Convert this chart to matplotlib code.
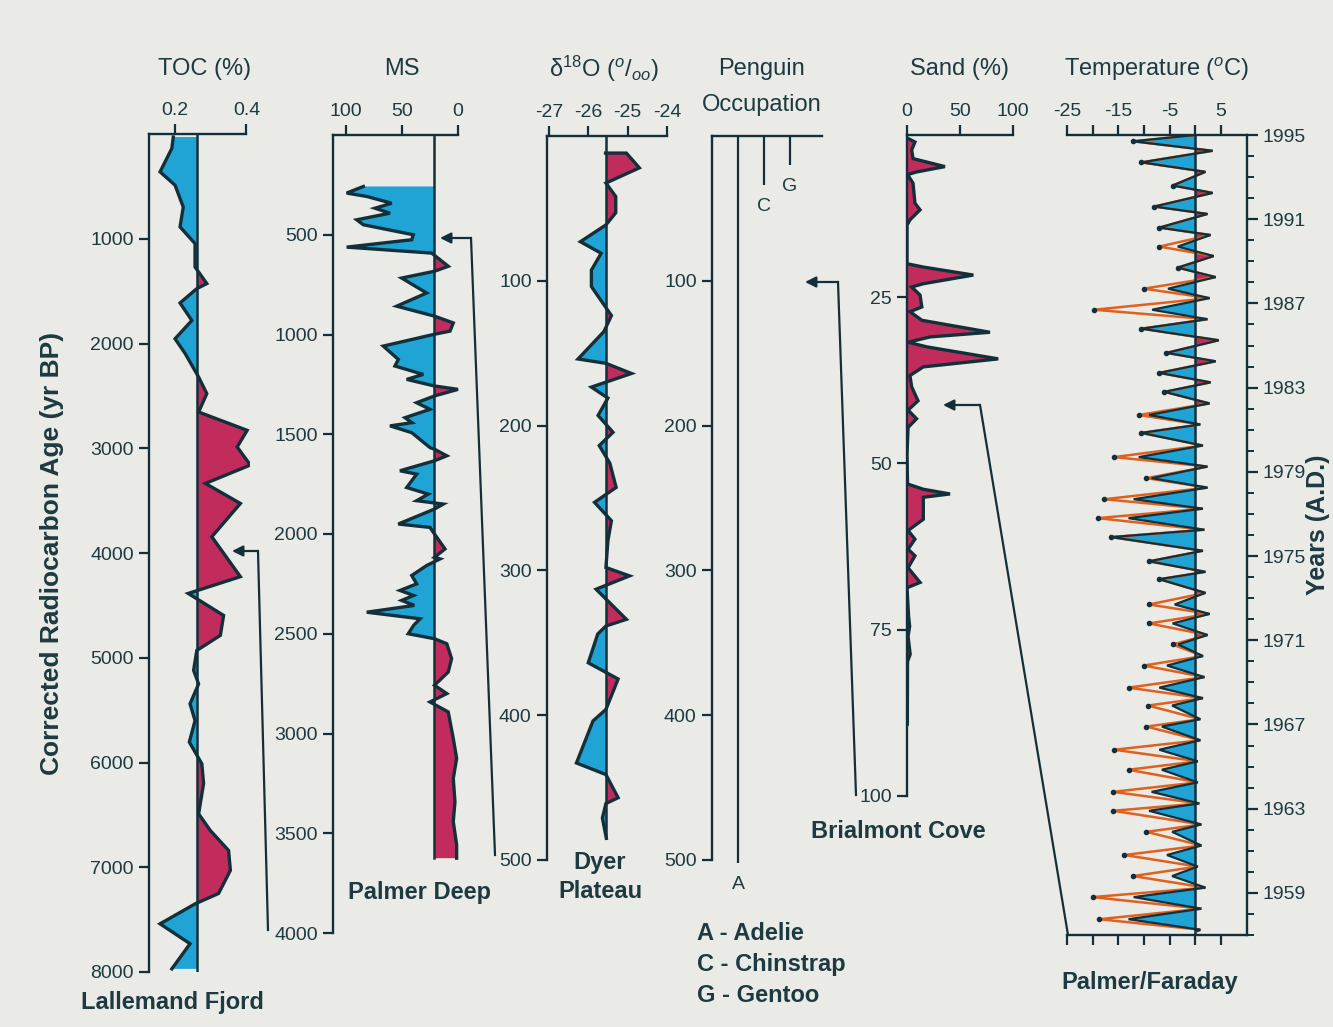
import numpy as np
import matplotlib.pyplot as plt
from matplotlib.lines import Line2D
from matplotlib.patches import FancyArrowPatch

plt.rcParams['font.family'] = ['Liberation Sans', 'DejaVu Sans']
plt.rcParams['axes.unicode_minus'] = False
plt.rcParams['mathtext.fontset'] = 'custom'
plt.rcParams['mathtext.rm'] = 'Liberation Sans'
plt.rcParams['mathtext.it'] = 'Liberation Sans:italic'

# ------------------ data
# Lallemand Fjord TOC (%) vs corrected radiocarbon age (yr BP)
toc_age = [29, 137, 361, 489, 697, 887, 1046, 1270, 1428, 1476, 1613, 1780, 1955, 2094,
           2320, 2479, 2654, 2829, 2988, 3160, 3336, 3527, 3845, 4226, 4386, 4596, 4786,
           4930, 5120, 5250, 5440, 5600, 5805, 6012, 6200, 6490, 6650, 6840, 7030, 7250,
           7350, 7540, 7730, 7970]
toc_val = [0.195, 0.191, 0.158, 0.200, 0.223, 0.214, 0.256, 0.256, 0.289, 0.261, 0.214,
           0.247, 0.200, 0.228, 0.266, 0.289, 0.266, 0.402, 0.374, 0.411, 0.285, 0.383,
           0.303, 0.383, 0.237, 0.336, 0.327, 0.261, 0.252, 0.266, 0.242, 0.256, 0.240,
           0.275, 0.280, 0.266, 0.299, 0.350, 0.355, 0.322, 0.256, 0.158, 0.242, 0.191]
toc_base = 0.261

# Palmer Deep magnetic susceptibility (depth, MS)
ms_points = [(258, 84.5), (291, 99.4), (308, 81.5), (342, 59.2), (367, 74.1), (392, 60.7),
             (425, 90.4), (450, 84.5), (500, 39.9), (525, 41.3), (562, 99.4), (592, 23.5),
             (658, 8.7), (683, 21), (717, 50.3), (792, 28), (858, 54.7), (908, 21),
             (942, 4.2), (983, 7.1), (1000, 22), (1058, 66.7), (1125, 53.3), (1158, 56.3),
             (1200, 31), (1225, 45.8), (1258, 21), (1275, 0), (1308, 21), (1342, 36.9),
             (1375, 25), (1417, 47.3), (1442, 41.1), (1458, 60.7), (1492, 41.3), (1567, 25),
             (1575, 21), (1608, 10), (1633, 21), (1683, 51.8), (1700, 36.9), (1767, 45.8),
             (1800, 26.5), (1833, 36.9), (1850, 13.1), (1875, 21), (1950, 53.3), (1967, 25),
             (2000, 21), (2075, 11.6), (2117, 21), (2125, 16), (2158, 28), (2208, 41.3),
             (2250, 36.9), (2283, 51.8), (2308, 39.6), (2333, 50.3), (2358, 39),
             (2392, 81.5), (2425, 33.9), (2458, 39.6), (2500, 44.4), (2525, 21), (2550, 10),
             (2625, 5.7), (2692, 8.7), (2758, 21), (2800, 10), (2842, 25), (2892, 8.7),
             (3025, 4.2), (3125, 1.2), (3225, 4.2), (3342, 2.7), (3442, 4.2), (3558, 1.2),
             (3625, 1.2)]
ms_base = 21

# Dyer Plateau d18O (depth, per mil)
dyer_points = [(11.8, -25.56), (11.8, -25.03), (22, -24.7), (32.5, -25.55), (41.8, -25.3),
               (53, -25.3), (61.4, -25.55), (73, -26.2), (81, -25.67), (92.6, -25.92),
               (104, -25.92), (124, -25.41), (135, -25.6), (154, -26.26), (157, -25.55),
               (164, -24.9), (170, -25.55), (173.4, -25.92), (181, -25.5), (193, -25.75),
               (204.6, -25.37), (213.8, -25.72), (226, -25.45), (242.7, -25.29),
               (253, -25.84), (265.7, -25.41), (279.6, -25.5), (298, -25.55),
               (303.8, -24.95), (313, -25.8), (333.8, -25.03), (338.4, -25.55),
               (344, -25.76), (363.8, -26.0), (375, -25.24), (396, -25.55), (404, -25.88),
               (433, -26.3), (441, -25.55), (457, -25.24), (461, -25.55), (471, -25.64),
               (485, -25.54)]
dyer_base = -25.55

# penguin occupation (species, column, depth reached)
penguin_species = ['A', 'C', 'G']
penguin_col = [1, 2, 3]
penguin_end = [502, 34, 20]

# Brialmont Cove sand (depth, %)
sand_points = [(1.1, 0), (1.7, 7.5), (2.9, 4.4), (4.2, 5.7), (5.4, 35.8), (6.2, 9.1),
               (6.6, 0.5), (7.9, 5.7), (10.9, 7.5), (11.9, 12.3), (13.4, 2.8), (14.2, 0),
               (20, 0), (20.5, 15.4), (21.7, 62.6), (23, 15.4), (23.5, 4.4), (24.7, 12.3),
               (26.5, 14), (27.2, 2.8), (28.5, 14), (30.3, 78.3), (31, 21.7), (31.8, 1),
               (32.5, 18.9), (34.3, 86.1), (35.5, 15.4), (36.8, 2.8), (38.5, 4.4),
               (40.6, 10.4), (42, 1), (43.3, 9), (44.6, 1), (48.6, 0), (53.1, 0.5),
               (53.9, 15.4), (54.6, 40.6), (55.1, 15.4), (58.4, 15.4), (60.1, 1), (61.4, 7.5),
               (62.9, 1), (63.9, 7.5), (65.7, 1), (67.9, 12.3), (68.7, 0), (73, 1.5),
               (74.5, 2.5), (76, 1), (78.7, 3), (79.8, 0.5), (89.2, 0.3)]

# Palmer/Faraday monthly temperature, summer peaks and winter troughs, 1957-1994
temp_years = list(range(1957, 1995))
summer_pos = [y + 0.25 for y in temp_years]
summer_val = [1.0, 1.2, 2.0, 0.5, 1.2, 1.2, 0.8, 0.5, 0.5, 1.0, 1.0, 1.5, 1.8, 1.5, 2.4,
              2.8, 2.0, 2.0, 1.5,
              1.8, 1.5, 2.4, 2.4, 1.5, 1.0, 2.8, 3.0, 4.0, 4.6, 2.4, 2.8, 4.0, 3.6, 3.0,
              2.4, 3.4, 2.0, 3.4]
winter_pos = [1957.75, 1958.8, 1959.8, 1960.8, 1961.9, 1962.9, 1963.8, 1964.85, 1965.8,
              1966.9, 1967.9, 1968.75, 1969.8, 1970.8, 1971.8, 1972.7, 1973.9, 1974.75,
              1975.9, 1976.8, 1977.7, 1978.7, 1979.7, 1980.85, 1981.7, 1982.8, 1983.7,
              1984.65, 1985.8, 1986.7, 1987.7, 1988.7, 1989.7, 1990.6, 1991.6, 1992.6,
              1993.7, 1994.7]
winter_fill = [-13, -12, -4.5, -5.5, -4.5, -9, -8.5, -6.5, -7, -6.5, -4.5, -7, -5.5, -3.3,
               -4.4, -4, -7, -9, -16.4,
               -13, -12, -8.5, -11, -10.5, -9, -6, -7, -5.6, -10.5, -8.4, -5.3, -3.4, -3.4,
               -7, -8, -4.4, -10.5, -12.1]
winter_line = [-18.7, -20, -12.1, -13.8, -9.5, -16, -16, -13, -15.8, -9.5, -9.2, -13, -10,
               -4.4, -9, -9, -7, -9, -16.4,
               -19, -17.7, -9.5, -15.8, -10.5, -11, -6, -7, -5.6, -10.5, -19.7, -10, -3.4,
               -7, -7, -8, -4.4, -10.5, -12.1]
temp_start = (1957.2, 0.5)
temp_end = (1995.0, 0.0)

# ------------------
W, H = 1333, 1027
BG = '#eaeae7'
INK = '#13303a'
TXT = '#1d3a40'
BLUE = '#20a3d5'
RED = '#c22c5c'
ORANGE = '#e0611e'
HEAD = 17
TICK = 14

fig = plt.figure(figsize=(W / 100, H / 100), dpi=100, facecolor=BG)


def fx(x):
    return x / W


def fy(y):
    return 1 - y / H


def panel(x0, y0, x1, y1):
    ax = fig.add_axes([fx(x0), fy(y1), (x1 - x0) / W, (y1 - y0) / H])
    ax.set_facecolor('none')
    for s in ['right', 'bottom']:
        ax.spines[s].set_visible(False)
    for s in ['left', 'top']:
        ax.spines[s].set_linewidth(1.7)
        ax.spines[s].set_color(INK)
    ax.xaxis.tick_top()
    ax.tick_params(axis='both', direction='out', length=7, width=1.6, colors=INK,
                   labelcolor=TXT, labelsize=TICK, pad=4)
    return ax


def diverging(ax, depth, val, base, hi=RED, lo=BLUE):
    depth = np.asarray(depth, float)
    val = np.asarray(val, float)
    ax.fill_betweenx(depth, val, base, where=val >= base, interpolate=True, color=hi, lw=0)
    ax.fill_betweenx(depth, val, base, where=val <= base, interpolate=True, color=lo, lw=0)
    ax.plot(val, depth, color=INK, lw=2.4, solid_joinstyle='miter')


def ftext(x, y, s, **kw):
    kw.setdefault('ha', 'center')
    kw.setdefault('va', 'center')
    kw.setdefault('color', TXT)
    fig.text(fx(x), fy(y), s, **kw)


def leader(pts):
    xs = [fx(p[0]) for p in pts]
    ys = [fy(p[1]) for p in pts]
    fig.add_artist(Line2D(xs[:-1], ys[:-1], color=INK, lw=1.6))
    fig.add_artist(FancyArrowPatch((xs[-2], ys[-2]), (xs[-1], ys[-1]),
                                   transform=fig.transFigure, arrowstyle='-|>',
                                   mutation_scale=16, color=INK, lw=1.6,
                                   shrinkA=0, shrinkB=0))


# TOC
ax = panel(149, 134, 250, 972)
ax.set_xlim(0.127, 0.41)
ax.set_ylim(8000, 0)
diverging(ax, toc_age, toc_val, toc_base)
ax.plot([toc_base, toc_base], [0, 8000], color=INK, lw=1.8)
ax.spines['top'].set_bounds(0.127, 0.4)
ax.set_xticks([0.2, 0.4], ['0.2', '0.4'])
ax.set_yticks(range(1000, 8001, 1000))

# MS (reversed axis: high values to the left are blue)
ax = panel(333, 135, 460, 933)
ax.set_xlim(111.6, -1.8)
ax.set_ylim(4000, 0)
ms_d, ms_v = np.array(ms_points).T
diverging(ax, ms_d, ms_v, ms_base, hi=BLUE, lo=RED)
ax.plot([ms_base, ms_base], [0, ms_d[-1]], color=INK, lw=1.8)
ax.spines['top'].set_bounds(111.6, 0)
ax.set_xticks([100, 50, 0])
ax.set_yticks(range(500, 4001, 500))

# Dyer Plateau
ax = panel(547, 136, 668, 860)
ax.set_xlim(-27.05, -23.97)
ax.set_ylim(500, 0)
dy_d, dy_v = np.array(dyer_points).T
diverging(ax, dy_d, dy_v, dyer_base)
ax.plot([dyer_base, dyer_base], [0, dy_d[-1]], color=INK, lw=1.8)
ax.spines['top'].set_bounds(-27.05, -24)
ax.set_xticks([-27, -26, -25, -24])
ax.set_yticks(range(100, 501, 100))

# Penguin occupation
ax = panel(712, 136, 822, 860)
ax.set_xlim(0, 4.23)
ax.set_ylim(500, 0)
ax.vlines(penguin_col, 0, penguin_end, color=INK, lw=1.6, clip_on=False)
for sp, c, e in zip(penguin_species, penguin_col, penguin_end):
    ax.text(c, e + 15, sp, ha='center', va='center', fontsize=TICK, color=TXT, clip_on=False)
ax.set_xticks([])
ax.set_yticks(range(100, 501, 100))

# Sand
ax = panel(907, 135, 1014, 796)
ax.set_xlim(0, 101)
ax.set_ylim(100, 0.65)
sd_d, sd_v = np.array(sand_points).T
ax.fill_betweenx(sd_d, sd_v, 0, color=RED, lw=0)
ax.plot(sd_v, sd_d, color=INK, lw=2.4, solid_joinstyle='miter')
ax.spines['top'].set_bounds(0, 100)
ax.set_xticks([0, 50, 100])
ax.set_yticks([25, 50, 75, 100])

# Temperature
ax = fig.add_axes([fx(1067), fy(935), (1247 - 1067) / W, 800 / H])
ax.set_facecolor('none')
ax.spines['left'].set_visible(False)
for s in ['right', 'top', 'bottom']:
    ax.spines[s].set_linewidth(1.7)
    ax.spines[s].set_color(INK)
ax.set_xlim(-25, 10.1)
ax.set_ylim(1957, 1995)

fill_t = [temp_start[0]]
fill_v = [temp_start[1]]
line_t = [temp_start[0]]
line_v = [temp_start[1]]
for sp, sv, wp, wf, wl in zip(summer_pos, summer_val, winter_pos, winter_fill, winter_line):
    fill_t += [sp, wp]
    fill_v += [sv, wf]
    line_t += [sp, wp]
    line_v += [sv, wl]
fill_t.append(temp_end[0])
fill_v.append(temp_end[1])
line_t.append(temp_end[0])
line_v.append(temp_end[1])
fill_t = np.array(fill_t)
fill_v = np.array(fill_v)

ax.plot(line_v, line_t, color=ORANGE, lw=1.8, solid_joinstyle='miter')
ax.plot(winter_line, winter_pos, 'o', color=INK, ms=3)
ax.fill_betweenx(fill_t, fill_v, 0, where=fill_v <= 0, interpolate=True, color=BLUE, lw=0)
ax.fill_betweenx(fill_t, fill_v, 0, where=fill_v >= 0, interpolate=True, color=RED, lw=0)
ax.plot(fill_v, fill_t, color=INK, lw=1.6, solid_joinstyle='miter')
ax.axvline(0, color=INK, lw=1.8)

ax.set_xticks(range(-25, 6, 5), ['-25', '', '-15', '', '-5', '', '5'])
ax.tick_params(axis='x', top=True, bottom=True, labeltop=True, labelbottom=False,
               direction='out', length=7, width=1.6, colors=INK, labelcolor=TXT,
               labelsize=TICK, pad=4)
ax.yaxis.tick_right()
ax.set_yticks(range(1959, 1996, 4))
ax.set_yticks(range(1957, 1996), minor=True)
ax.tick_params(axis='y', which='major', direction='out', length=8, width=1.6, colors=INK,
               labelcolor=TXT, labelsize=TICK, pad=3)
ax.tick_params(axis='y', which='minor', direction='out', length=5, width=1.4, colors=INK)

# headers
ftext(205, 69, 'TOC (%)', fontsize=HEAD)
ftext(402, 69, 'MS', fontsize=HEAD)
ftext(604, 69, r'δ$^{18}$O ($^{o}$/$_{oo}$)', fontsize=HEAD)
ftext(762, 69, 'Penguin', fontsize=HEAD)
ftext(762, 105, 'Occupation', fontsize=HEAD)
ftext(960, 69, 'Sand (%)', fontsize=HEAD)
ftext(1157, 69, r'Temperature ($^{o}$C)', fontsize=HEAD)

# site labels
ftext(172, 1002, 'Lallemand Fjord', fontsize=HEAD, fontweight='bold')
ftext(420, 893, 'Palmer Deep', fontsize=HEAD, fontweight='bold')
ftext(600, 862, 'Dyer', fontsize=HEAD, fontweight='bold')
ftext(600, 891, 'Plateau', fontsize=HEAD, fontweight='bold')
ftext(898, 832, 'Brialmont Cove', fontsize=HEAD, fontweight='bold')
ftext(1150, 983, 'Palmer/Faraday', fontsize=HEAD, fontweight='bold')
ftext(697, 934, 'A - Adelie', fontsize=HEAD, fontweight='bold', ha='left')
ftext(697, 965, 'C - Chinstrap', fontsize=HEAD, fontweight='bold', ha='left')
ftext(697, 995, 'G - Gentoo', fontsize=HEAD, fontweight='bold', ha='left')

ftext(52, 553, 'Corrected Radiocarbon Age (yr BP)', fontsize=19, fontweight='bold',
      rotation=90)
ftext(1318, 525, 'Years (A.D.)', fontsize=18, fontweight='bold', rotation=90)

# leader arrows
leader([(268, 930), (258, 551), (232, 551)])
leader([(495, 855), (471, 238), (440, 238)])
leader([(856, 795), (838, 282), (805, 282)])
leader([(1068, 935), (980, 405), (943, 405)])

fig.savefig('out.png', dpi=100, facecolor=BG)
